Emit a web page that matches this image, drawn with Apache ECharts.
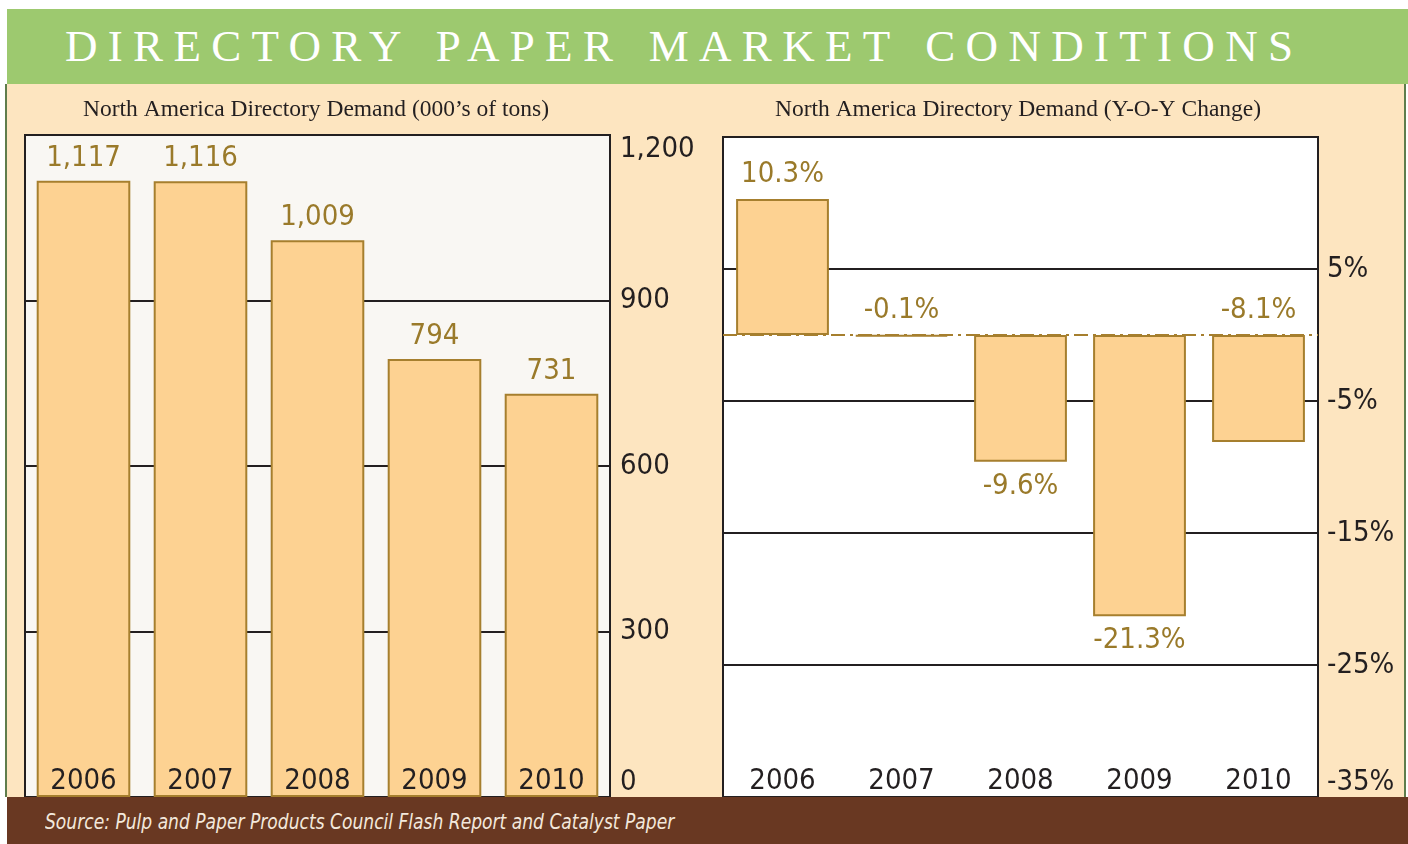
<!DOCTYPE html>
<html>
<head>
<meta charset="utf-8">
<script src="https://cdn.jsdelivr.net/npm/echarts@6/dist/echarts.min.js"></script>
<style>
  html, body { margin: 0; padding: 0; background: #fff; }
  #page { position: relative; width: 1408px; height: 844px; overflow: hidden; }
  #header {
    position: absolute; left: 7px; top: 9px; width: 1401px; height: 75px;
    background: #9DC96F; color: #fff;
    font-family: 'Liberation Serif', 'DejaVu Serif', serif; font-size: 45px;
    line-height: 75px; letter-spacing: 10.3px; word-spacing: 4px;
    padding-left: 58px; box-sizing: border-box; white-space: nowrap;
  }
  #panel {
    position: absolute; left: 5px; top: 84px; width: 1401px; height: 713px;
    background: #FDE5C0; box-sizing: border-box;
    border-left: 2px solid #5F7D4C; border-right: 2px solid #5F7D4C;
  }
  #chart { position: absolute; left: 0; top: 0; width: 1408px; height: 844px; }
  #footer {
    position: absolute; left: 7px; top: 797px; width: 1401px; height: 47px;
    background: #693822; color: #F3E8DC; z-index: 5;
    font-family: 'Liberation Sans Narrow', 'DejaVu Sans Condensed', sans-serif;
    font-style: italic; font-size: 22px; line-height: 49px;
    padding-left: 38px; box-sizing: border-box; white-space: nowrap;
  }
  #footer span { display: inline-block; transform: scaleX(0.865); transform-origin: left center; }
</style>
</head>
<body>
<div id="page">
  <div id="header">DIRECTORY PAPER MARKET CONDITIONS</div>
  <div id="panel"></div>
  <div id="chart"></div>
  <div id="footer"><span>Source: Pulp and Paper Products Council Flash Report and Catalyst Paper</span></div>
</div>
<script>
// data
const years = ['2006', '2007', '2008', '2009', '2010']
const demand = [1117, 1116, 1009, 794, 731]        // 000's of tons
const yoyChange = [10.3, -0.1, -9.6, -21.3, -8.1]  // percent
const demandTicks = [0, 300, 600, 900, 1200]
const changeTicks = [-35, -25, -15, -5, 5]
const changeLabelSide = ['top', 'top', 'bottom', 'bottom', 'top']

const NARROW = "'Liberation Sans Narrow', 'DejaVu Sans Condensed', 'Arial Narrow', sans-serif"
const SERIF = "'Liberation Serif', 'DejaVu Serif', serif"
const INK = '#231F20'
const GOLD = '#9A7A2A'
const BAR_FILL = '#FDD292'
const BAR_EDGE = '#A67F2E'
const NUM_SIZE = 29

const chart = echarts.init(document.getElementById('chart'))

const comma = (v) => v.toLocaleString('en-US')

const categoryAxis = (gridIndex) => ({
  type: 'category',
  gridIndex,
  data: years,
  z: 5,
  axisLine: { show: false },
  axisTick: { show: false },
  axisLabel: {
    inside: true,
    interval: 0,
    margin: 1,
    color: INK,
    fontSize: NUM_SIZE,
    fontFamily: NARROW,
  },
})

const valueLabel = {
  color: INK,
  fontSize: NUM_SIZE,
  fontFamily: NARROW,
  margin: 10,
  verticalAlignMinLabel: 'bottom',
  verticalAlignMaxLabel: 'top',
}

const subtitle = (x, text) => ({
  type: 'text',
  x,
  y: 110,
  style: {
    text,
    fill: INK,
    font: '23.5px ' + SERIF,
    textAlign: 'center',
    textVerticalAlign: 'middle',
  },
})

const option = {
  animation: false,
  graphic: [
    subtitle(316, 'North America Directory Demand (000\u2019s of tons)'),
    subtitle(1018, 'North America Directory Demand (Y-O-Y Change)'),
  ],
  grid: [
    {
      left: 25, top: 135, width: 585, height: 662,
      show: true, backgroundColor: '#F9F7F3', borderColor: INK, borderWidth: 2,
    },
    {
      left: 723, top: 137, width: 595, height: 660,
      show: true, backgroundColor: '#FFFFFF', borderColor: INK, borderWidth: 2,
    },
  ],
  xAxis: [categoryAxis(0), categoryAxis(1)],
  yAxis: [
    {
      type: 'value',
      gridIndex: 0,
      position: 'right',
      min: demandTicks[0],
      max: demandTicks[demandTicks.length - 1],
      interval: demandTicks[1] - demandTicks[0],
      axisLine: { show: false },
      axisTick: { show: false },
      splitLine: { lineStyle: { color: INK, width: 2 } },
      axisLabel: { ...valueLabel, formatter: (v) => comma(v) },
    },
    {
      type: 'value',
      gridIndex: 1,
      position: 'right',
      min: changeTicks[0],
      max: changeTicks[changeTicks.length - 1] + (changeTicks[1] - changeTicks[0]),
      interval: changeTicks[1] - changeTicks[0],
      axisLine: { show: false },
      axisTick: { show: false },
      splitLine: { lineStyle: { color: INK, width: 2 } },
      axisLabel: { ...valueLabel, margin: 9, showMaxLabel: false, formatter: (v) => v + '%' },
    },
  ],
  series: [
    {
      type: 'bar',
      xAxisIndex: 0,
      yAxisIndex: 0,
      data: demand,
      barWidth: '80%',
      itemStyle: { color: BAR_FILL, borderColor: BAR_EDGE, borderWidth: 2 },
      label: {
        show: true,
        position: 'top',
        distance: 8,
        color: GOLD,
        fontSize: NUM_SIZE,
        fontFamily: NARROW,
        formatter: (p) => comma(p.value),
      },
    },
    {
      type: 'bar',
      xAxisIndex: 1,
      yAxisIndex: 1,
      data: yoyChange.map((v, i) => ({
        value: v,
        label: { position: changeLabelSide[i] },
      })),
      barWidth: '78%',
      itemStyle: { color: BAR_FILL, borderColor: BAR_EDGE, borderWidth: 2 },
      label: {
        show: true,
        distance: 10,
        color: GOLD,
        fontSize: NUM_SIZE,
        fontFamily: NARROW,
        backgroundColor: '#FFFFFF',
        padding: [0, 6],
        formatter: (p) => p.value.toFixed(1) + '%',
      },
      markLine: {
        silent: true,
        symbol: 'none',
        label: { show: false },
        lineStyle: { color: BAR_EDGE, width: 2, type: [14, 5, 3, 5] },
        data: [{ yAxis: 0 }],
      },
    },
  ],
}

chart.setOption(option)
</script>
</body>
</html>
